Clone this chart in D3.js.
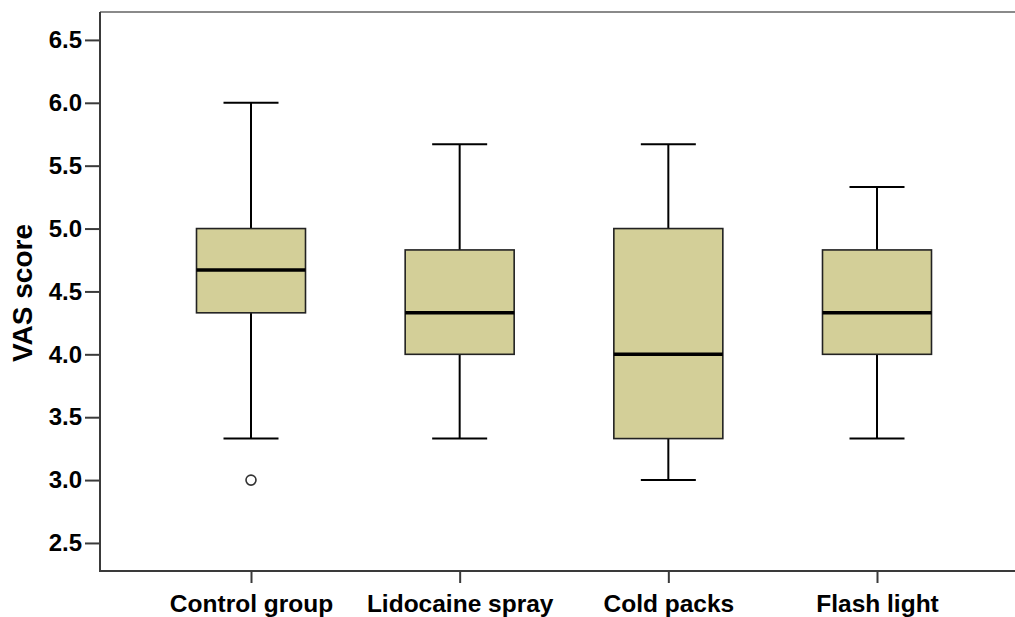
<!DOCTYPE html>
<html>
<head>
<meta charset="utf-8">
<script src="https://cdn.jsdelivr.net/npm/d3@7"></script>
<style>
  html, body { margin: 0; padding: 0; background: #fff; }
  svg { display: block; }
</style>
</head>
<body>
<svg id="chart" width="1015" height="617"></svg>
<script>
const categories = ["Control group", "Lidocaine spray", "Cold packs", "Flash light"];
const mins    = [3.33, 3.33, 3.00, 3.33];
const q1s     = [4.33, 4.00, 3.33, 4.00];
const medians = [4.67, 4.33, 4.00, 4.33];
const q3s     = [5.00, 4.83, 5.00, 4.83];
const maxs    = [6.00, 5.67, 5.67, 5.33];
const outliers = [{cat: "Control group", value: 3.0}];
const yTicks = [2.5, 3.0, 3.5, 4.0, 4.5, 5.0, 5.5, 6.0, 6.5];

const data = categories.map((c, i) => ({cat: c, min: mins[i], q1: q1s[i], med: medians[i], q3: q3s[i], max: maxs[i]}));

const svg = d3.select("#chart");
const plotLeft = 100, plotRight = 1015, plotTop = 12, plotBottom = 571;
const font = "'Liberation Sans', Arial, sans-serif";

const y = d3.scaleLinear().domain([2.277, 6.722]).range([plotBottom, plotTop]);
const x = d3.scalePoint().domain(categories).range([251, 877]);
const boxW = 109, capW = 55;

// Top border
svg.append("line").attr("x1", plotLeft).attr("x2", plotRight).attr("y1", plotTop).attr("y2", plotTop)
  .attr("stroke", "#8a8a8a").attr("stroke-width", 2);

// Y axis
const yAxis = svg.append("g").attr("transform", `translate(${plotLeft},0)`)
  .call(d3.axisLeft(y).tickValues(yTicks).tickFormat(d3.format(".1f")).tickSize(15).tickPadding(3));
yAxis.select(".domain").remove();
yAxis.append("line").attr("x1", 0).attr("x2", 0).attr("y1", plotTop).attr("y2", plotBottom + 1)
  .attr("stroke", "#3a3a3a").attr("stroke-width", 2);
yAxis.selectAll(".tick line").attr("stroke", "#3a3a3a").attr("stroke-width", 2);
yAxis.selectAll(".tick text").attr("fill", "#000")
  .style("font-family", font).style("font-weight", "bold").style("font-size", "24px");

// X axis
const xAxis = svg.append("g").attr("transform", `translate(0,${plotBottom})`)
  .call(d3.axisBottom(x).tickSize(12).tickPadding(12));
xAxis.select(".domain").remove();
xAxis.append("line").attr("x1", plotLeft - 1).attr("x2", plotRight).attr("y1", 0).attr("y2", 0)
  .attr("stroke", "#3a3a3a").attr("stroke-width", 2);
xAxis.selectAll(".tick line").attr("stroke", "#3a3a3a").attr("stroke-width", 2);
xAxis.selectAll(".tick text").attr("fill", "#000")
  .style("font-family", font).style("font-weight", "bold").style("font-size", "24.5px");

// Y title
svg.append("text").attr("transform", "translate(32,293) rotate(-90)")
  .attr("text-anchor", "middle")
  .style("font-family", font).style("font-weight", "bold").style("font-size", "28px")
  .text("VAS score");

// Boxes
const g = svg.append("g");
const box = g.selectAll("g.box").data(data).enter().append("g").attr("class", "box");

box.append("line").attr("x1", d => x(d.cat)).attr("x2", d => x(d.cat))
  .attr("y1", d => y(d.q3)).attr("y2", d => y(d.max)).attr("stroke", "#000").attr("stroke-width", 2);
box.append("line").attr("x1", d => x(d.cat)).attr("x2", d => x(d.cat))
  .attr("y1", d => y(d.q1)).attr("y2", d => y(d.min)).attr("stroke", "#000").attr("stroke-width", 2);
box.append("line").attr("x1", d => x(d.cat) - capW / 2).attr("x2", d => x(d.cat) + capW / 2)
  .attr("y1", d => y(d.max)).attr("y2", d => y(d.max)).attr("stroke", "#000").attr("stroke-width", 2);
box.append("line").attr("x1", d => x(d.cat) - capW / 2).attr("x2", d => x(d.cat) + capW / 2)
  .attr("y1", d => y(d.min)).attr("y2", d => y(d.min)).attr("stroke", "#000").attr("stroke-width", 2);

box.append("rect").attr("x", d => x(d.cat) - boxW / 2).attr("width", boxW)
  .attr("y", d => y(d.q3)).attr("height", d => y(d.q1) - y(d.q3))
  .attr("fill", "#d3cf98").attr("stroke", "#222").attr("stroke-width", 1.6);

box.append("line").attr("x1", d => x(d.cat) - boxW / 2).attr("x2", d => x(d.cat) + boxW / 2)
  .attr("y1", d => y(d.med)).attr("y2", d => y(d.med)).attr("stroke", "#000").attr("stroke-width", 3.5);

g.selectAll("circle.out").data(outliers).enter().append("circle").attr("class", "out")
  .attr("cx", d => x(d.cat)).attr("cy", d => y(d.value)).attr("r", 5)
  .attr("fill", "#fff").attr("stroke", "#333").attr("stroke-width", 1.6);
</script>
</body>
</html>
